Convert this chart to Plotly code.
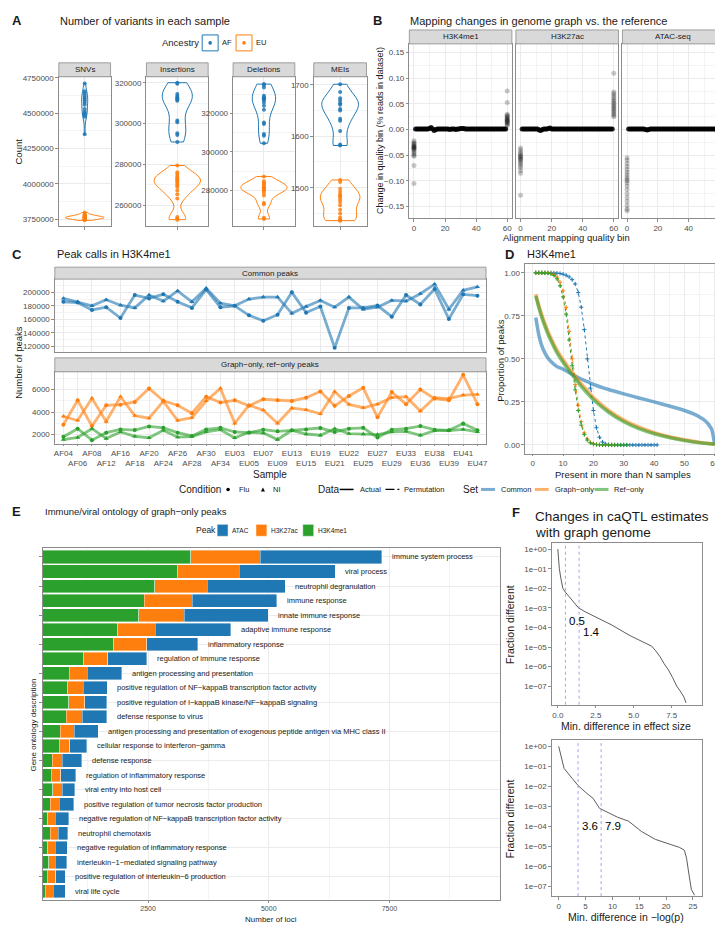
import numpy as np
import plotly.graph_objects as go

W, H = 723, 925
FONT = "Liberation Sans, Arial, Helvetica, sans-serif"
BLUE, ORANGE, GREEN = "#1F77B4", "#FF7F0E", "#2CA02C"
GRID, MINOR, BORDER, TICKC, TXT = "#EBEBEB", "#F4F4F4", "#8C8C8C", "#4D4D4D", "#1A1A1A"
STRIP_FILL = "#D9D9D9"

# ---------------- A: number of variants in each sample ----------------
variant_types = ["SNVs", "Insertions", "Deletions", "MEIs"]
ancestries = ["AF", "EU"]
snv_af = [4710000, 4655000, 4640000, 4625000, 4610000, 4600000, 4590000, 4575000, 4560000,
          4530000, 4510000, 4500000, 4490000, 4475000, 4350000]
snv_eu = [3742000, 3746000, 3750000, 3752000, 3755000, 3757000, 3759000, 3760000, 3762000,
          3764000, 3766000, 3768000, 3770000, 3773000, 3776000, 3780000, 3786000, 3797000]
ins_af = [320000, 319500, 314500, 313500, 312800, 312300, 311800, 311200, 301500, 300600,
          295300, 294400, 291000]
ins_eu = [279500, 276200, 275300, 274400, 273600, 272800, 272200, 271500, 270600, 269700,
          269000, 267300, 265400, 263300, 254300, 253600, 253000]
del_af = [335200, 334800, 333400, 329100, 328400, 327900, 327300, 326900, 325700, 324000,
          321900, 315300, 314500, 309300, 308400, 304500]
del_eu = [287200, 284800, 283900, 283400, 282600, 281700, 281200, 280900, 280300, 280000,
          278800, 277400, 273500, 272800, 265900, 265200]
mei_af = [1701, 1686, 1674, 1669, 1664, 1661, 1653, 1650, 1634, 1630, 1610, 1584, 1582]
mei_eu = [1515, 1511, 1498, 1492, 1487, 1484, 1482, 1477, 1472, 1466, 1457, 1450, 1442,
          1438, 1437, 1436]

# ---------------- B: mapping quality changes ----------------
b_assays = ["H3K4me1", "H3K27ac", "ATAC-seq"]
mapq_bins = list(range(0, 61))
b_bin0 = {
    "H3K4me1": [-0.022, -0.025, -0.027, -0.029, -0.031, -0.033, -0.034, -0.035, -0.036, -0.037,
                -0.039, -0.041, -0.044, -0.047, -0.050, -0.052, -0.070, -0.105],
    "H3K27ac": [-0.036, -0.040, -0.044, -0.047, -0.050, -0.052, -0.054, -0.056, -0.058, -0.060,
                -0.063, -0.066, -0.070, -0.074, -0.080, -0.085, -0.128],
    "ATAC-seq": [-0.055, -0.060, -0.066, -0.072, -0.078, -0.083, -0.088, -0.093, -0.097, -0.100,
                 -0.104, -0.110, -0.117, -0.125, -0.133, -0.140, -0.148, -0.155, -0.158],
}
b_bin60 = {
    "H3K4me1": [0.008, 0.010, 0.012, 0.014, 0.015, 0.016, 0.018, 0.019, 0.020, 0.022, 0.024,
                0.026, 0.028, 0.030, 0.053, 0.075],
    "H3K27ac": [0.025, 0.028, 0.031, 0.034, 0.037, 0.040, 0.043, 0.046, 0.049, 0.052, 0.055,
                0.058, 0.062, 0.066, 0.070, 0.073, 0.110],
    "ATAC-seq": [0.055, 0.060, 0.065, 0.070, 0.075, 0.080, 0.085, 0.088, 0.090, 0.093, 0.097,
                 0.100, 0.105, 0.110, 0.115, 0.122, 0.128, 0.135, 0.143, 0.148],
}
b_mid = {  # bins 1..59
    "H3K4me1": [0.001, 0.001, 0.001, 0.001, 0.001, 0.001, 0.001, 0.001, 0.001, 0.002,
                0.004, 0.001, -0.002, 0.000, 0.001, 0.001, 0.001, 0.001, 0.001, 0.001,
                0.001, 0.001, 0.000, 0.001, 0.001, 0.001, 0.000, 0.001, 0.001, 0.002,
                0.002, 0.002, 0.001, 0.001, 0.001, 0.001, 0.001, 0.001, 0.001, 0.001,
                0.001, 0.001, 0.001, 0.001, 0.001, 0.001, 0.001, 0.001, 0.001, 0.001,
                0.001, 0.001, 0.001, 0.001, 0.001, 0.001, 0.001, 0.001, 0.001],
    "H3K27ac": [0.001, 0.001, 0.001, 0.001, 0.001, 0.001, 0.001, 0.001, 0.001, 0.001,
                0.001, -0.001, -0.002, 0.000, 0.001, 0.001, 0.001, 0.002, 0.003, 0.001,
                0.001, 0.001, 0.001, 0.001, 0.001, 0.001, 0.001, 0.001, 0.001, 0.001,
                0.001, 0.001, 0.001, 0.001, 0.001, 0.001, 0.001, 0.001, 0.001, 0.001,
                0.001, 0.001, 0.001, 0.001, 0.001, 0.001, 0.001, 0.001, 0.001, 0.001,
                0.001, 0.001, 0.001, 0.001, 0.001, 0.001, 0.001, 0.001, 0.001],
    "ATAC-seq": [0.001, 0.001, 0.001, 0.001, 0.001, 0.001, 0.001, 0.001, 0.001, 0.001,
                 0.001, 0.000, -0.001, 0.000, 0.001, 0.001, 0.001, 0.001, 0.001, 0.001,
                 0.001, 0.001, 0.001, 0.001, 0.001, 0.001, 0.001, 0.001, 0.001, 0.001,
                 0.001, 0.001, 0.001, 0.001, 0.001, 0.001, 0.001, 0.001, 0.001, 0.001,
                 0.001, 0.001, 0.001, 0.001, 0.001, 0.001, 0.001, 0.001, 0.001, 0.001,
                 0.001, 0.001, 0.001, 0.001, 0.001, 0.001, 0.001, 0.001, 0.001],
}

# ---------------- C: peak calls per sample ----------------
samples = ["AF04", "AF06", "AF08", "AF12", "AF16", "AF18", "AF20", "AF24", "AF26", "AF28",
           "AF30", "AF34", "EU03", "EU05", "EU07", "EU09", "EU13", "EU15", "EU19", "EU21",
           "EU22", "EU25", "EU27", "EU29", "EU33", "EU36", "EU38", "EU39", "EU41", "EU47"]
common_flu = [186000, 185000, 174000, 178000, 162000, 196000, 191000, 197000, 186000, 177000,
              204000, 178000, 180000, 166000, 158000, 167000, 200000, 170000, 179000, 118000,
              177000, 177000, 180500, 164000, 196000, 182000, 205000, 160500, 197000, 195000]
common_ni = [191000, 186000, 180000, 189000, 181000, 177000, 196000, 187000, 202000, 186000,
             206000, 184000, 180000, 190000, 193000, 193000, 169000, 179000, 188000, 178000,
             193000, 175000, 178000, 188000, 187000, 198000, 212000, 175000, 203000, 208000]
graph_flu = [2870, 5040, 2750, 4600, 4650, 4900, 6090, 5000, 4600, 3900, 5360, 4840, 5040, 4550,
             5130, 5040, 4980, 5270, 5830, 4550, 5420, 6150, 3530, 5770, 4700, 6000, 5190, 5040,
             7300, 4700]
graph_ni = [3620, 3250, 5220, 3160, 5360, 3680, 3450, 4950, 3250, 3500, 4980, 6090, 3000, 4600,
            4170, 3000, 4350, 4200, 3830, 5800, 4670, 4380, 4700, 5270, 5360, 4090, 5270, 5190,
            5500, 5560]
ref_flu = [1800, 2520, 1500, 2170, 2460, 2400, 2720, 2600, 2170, 1880, 2460, 2600, 2230, 2170,
           2430, 2290, 2380, 2460, 2580, 2230, 2520, 2600, 1740, 2430, 2520, 2750, 2430, 2380,
           2980, 2380]
ref_ni = [1560, 1740, 2520, 1650, 2230, 1850, 1710, 2380, 1770, 1820, 2230, 2430, 1710, 2200,
          2140, 1560, 2380, 2050, 1940, 2520, 2080, 2050, 2000, 2230, 2290, 1940, 2350, 2350,
          2460, 2230]

# ---------------- D: peak sharing across samples ----------------
n_common = [1, 2, 3, 4, 5, 6, 8, 10, 12, 14, 16, 18, 20, 25, 30, 35, 40, 45, 50, 53, 55, 57,
            58, 59, 60]
common_actual = [0.74, 0.64, 0.575, 0.535, 0.505, 0.485, 0.455, 0.44, 0.42, 0.40, 0.383, 0.368,
                 0.352, 0.322, 0.297, 0.273, 0.25, 0.226, 0.2, 0.18, 0.162, 0.138, 0.118, 0.09, 0.0]
n_only = [1, 2, 3, 4, 5, 6, 8, 10, 12, 14, 16, 18, 20, 25, 30, 35, 40, 45, 50, 55, 60]
graph_actual = [0.875, 0.81, 0.755, 0.705, 0.66, 0.62, 0.55, 0.495, 0.445, 0.40, 0.355, 0.315,
                0.275, 0.2, 0.145, 0.103, 0.072, 0.048, 0.03, 0.015, 0.005]
ref_actual = [0.865, 0.80, 0.74, 0.69, 0.645, 0.605, 0.535, 0.48, 0.43, 0.385, 0.34, 0.30,
              0.262, 0.19, 0.135, 0.095, 0.065, 0.043, 0.026, 0.013, 0.004]
n_perm = list(range(1, 42))
common_perm = [1.0, 1.0, 1.0, 1.0, 1.0, 1.0, 0.999, 0.998, 0.996, 0.992,
               0.986, 0.976, 0.96, 0.935, 0.885, 0.8, 0.67, 0.5, 0.33, 0.2,
               0.1, 0.045, 0.017, 0.006, 0.002, 0.001, 0, 0, 0, 0,
               0, 0, 0, 0, 0, 0, 0, 0, 0, 0, 0]
graph_perm = [1.0, 1.0, 1.0, 1.0, 0.999, 0.997, 0.99, 0.975, 0.945, 0.895,
              0.8, 0.66, 0.5, 0.35, 0.23, 0.135, 0.07, 0.035, 0.015, 0.007,
              0.003, 0.001, 0, 0, 0, 0, 0]
ref_perm = [1.0, 1.0, 1.0, 0.999, 0.998, 0.994, 0.985, 0.965, 0.925, 0.86,
            0.76, 0.61, 0.46, 0.32, 0.2, 0.115, 0.06, 0.028, 0.012, 0.005,
            0.002, 0.001, 0, 0, 0, 0, 0, 0, 0, 0, 0]

# ---------------- E: GO terms of graph-only peaks ----------------
go_terms = ["immune system process", "viral process", "neutrophil degranulation",
            "immune response", "innate immune response", "adaptive immune response",
            "inflammatory response", "regulation of immune response",
            "antigen processing and presentation",
            "positive regulation of NF\u2212kappaB transcription factor activity",
            "positive regulation of I\u2212kappaB kinase/NF\u2212kappaB signaling",
            "defense response to virus",
            "antigen processing and presentation of exogenous peptide antigen via MHC class II",
            "cellular response to interferon\u2212gamma", "defense response",
            "regulation of inflammatory response", "viral entry into host cell",
            "positive regulation of tumor necrosis factor production",
            "negative regulation of NF\u2212kappaB transcription factor activity",
            "neutrophil chemotaxis", "negative regulation of inflammatory response",
            "interleukin\u22121\u2212mediated signaling pathway",
            "positive regulation of interleukin\u22126 production", "viral life cycle"]
h3k4me1_loci = [3380, 3115, 2640, 2420, 2310, 1870, 1790, 1170, 870, 835, 860, 805, 685, 655,
                510, 490, 525, 470, 425, 470, 425, 445, 415, 370]
h3k27ac_loci = [1440, 1275, 1085, 995, 940, 775, 685, 495, 370, 325, 325, 335, 285, 225, 210,
                205, 200, 190, 155, 165, 155, 130, 175, 170]
atac_loci = [2520, 1985, 1620, 1755, 1740, 1565, 1055, 810, 710, 495, 460, 500, 500, 345, 410,
             305, 255, 305, 280, 205, 245, 240, 190, 240]

# ---------------- F: caQTL estimate changes ----------------
eff_diff = [0.0, 0.05, 0.1, 0.2, 0.33, 0.5, 0.81, 1.0, 1.36, 1.8, 2.57, 3.5, 4.76, 5.5, 6.18,
            6.45, 6.73, 7.0, 7.28, 7.55, 7.83, 8.1, 8.3, 8.44]
eff_frac = [1.0, 2.5e-1, 1.0e-1, 3.2e-2, 1.0e-2, 6.3e-3, 3.2e-3, 2.0e-3, 1.0e-3, 6.3e-4, 3.2e-4,
            1.4e-4, 3.8e-5, 2.0e-5, 1.1e-5, 6.3e-6, 3.2e-6, 1.4e-6, 6.8e-7, 2.8e-7, 1.0e-7,
            5.0e-8, 2.8e-8, 1.4e-8]
eff_thresholds = [0.5, 1.4]
logp_diff = [0, 1.0, 2.5, 3.6, 5.0, 6.4, 7.6, 9.0, 11.0, 13.0, 14.2, 15.4, 18.0, 20.5, 22.5,
             23.4, 23.8, 24.3, 24.7, 25.3]
logp_frac = [1.0, 7.9e-2, 2.5e-2, 1.1e-2, 5.0e-3, 2.5e-3, 7.9e-4, 5.0e-4, 2.8e-4, 1.8e-4,
             1.0e-4, 5.5e-5, 2.2e-5, 1.3e-5, 8.7e-6, 6.3e-6, 2.5e-6, 3.2e-7, 6.8e-8, 3.5e-8]
logp_thresholds = [3.6, 7.9]

# ======================================================================
fig = go.Figure()
layout = dict(width=W, height=H, margin=dict(l=0, r=0, t=0, b=0), paper_bgcolor="white",
              plot_bgcolor="white", showlegend=False, violinmode="overlay", barmode="stack",
              font=dict(family=FONT, size=8, color=TXT))
shapes, anns = [], []


def px_x(x):
    return x / W


def px_y(y):
    return 1 - y / H


def add_text(x, y, s, size=8, color=TXT, xanchor="left", yanchor="middle", angle=0, bold=False):
    anns.append(dict(xref="paper", yref="paper", x=px_x(x), y=px_y(y),
                     text=(f"<b>{s}</b>" if bold else s), showarrow=False, xanchor=xanchor,
                     yanchor=yanchor, textangle=angle, borderpad=0,
                     font=dict(family=FONT, size=size, color=color)))


def add_rect(l, t, r, b, fill, line=None, lw=0.8):
    shapes.append(dict(type="rect", xref="paper", yref="paper", x0=px_x(l), x1=px_x(r),
                       y0=px_y(b), y1=px_y(t), fillcolor=fill,
                       line=dict(color=line or fill, width=(lw if line else 0)), layer="above"))


def add_line(x0, y0, x1, y1, color, width=1.0, dash="solid", opacity=1.0):
    shapes.append(dict(type="line", xref="paper", yref="paper", x0=px_x(x0), x1=px_x(x1),
                       y0=px_y(y0), y1=px_y(y1), opacity=opacity,
                       line=dict(color=color, width=width, dash=dash)))


def strip(l, t, r, b, label):
    add_rect(l, t, r, b, STRIP_FILL, BORDER, 0.8)
    add_text((l + r) / 2, (t + b) / 2, label, size=8, xanchor="center")


def axname(k, n):
    return f"{k}axis" if n == 1 else f"{k}axis{n}"


def axref(k, n):
    return k if n == 1 else f"{k}{n}"


def base_axis(other, dom, **kw):
    d = dict(domain=dom, anchor=other, showline=True, mirror=True, linecolor=BORDER,
             linewidth=0.8, showgrid=True, gridcolor=GRID, gridwidth=0.8, zeroline=False,
             ticks="outside", ticklen=2.5, tickwidth=0.8, tickcolor=BORDER,
             ticklabeloverflow="allow",
             tickfont=dict(size=8, color=TICKC, family=FONT), fixedrange=True)
    d.update(kw)
    return d


def add_panel(n, box, xkw, ykw):
    l, t, r, b = box
    layout[axname("x", n)] = base_axis(axref("y", n), [px_x(l), px_x(r)], **xkw)
    layout[axname("y", n)] = base_axis(axref("x", n), [px_y(b), px_y(t)], **ykw)
    return axref("x", n), axref("y", n)


def minor(dt):
    return dict(dtick=dt, showgrid=True, gridcolor=MINOR, gridwidth=0.5)


def nrd0(v):
    v = np.asarray(v, float)
    sd = v.std(ddof=1)
    q75, q25 = np.percentile(v, [75, 25])
    lo = min(sd, (q75 - q25) / 1.34) if q75 > q25 else sd
    return 0.9 * lo * len(v) ** -0.2


def kde_peak(v, bw):
    v = np.asarray(v, float)
    grid = np.linspace(v.min(), v.max(), 400)
    dens = np.exp(-0.5 * ((grid[:, None] - v[None, :]) / bw) ** 2).sum(1)
    return dens.max() / (len(v) * bw * np.sqrt(2 * np.pi))


# ---------------- Panel A ----------------
add_text(2, 10, "A", size=13, bold=True)
add_text(50, 10, "Number of variants in each sample", size=11)
add_text(153, 32, "Ancestry", size=9.5)
for (bl, br), lab, col in zip([(194, 210), (228, 244)], ancestries, [BLUE, ORANGE]):
    add_rect(bl, 24, br, 40, "rgba(0,0,0,0)", col, 1)
    shapes.append(dict(type="circle", xref="paper", yref="paper", x0=px_x((bl + br) / 2 - 1.8),
                       x1=px_x((bl + br) / 2 + 1.8), y0=px_y(33.8), y1=px_y(30.2),
                       fillcolor=col, line=dict(width=0)))
    add_text(br + 3, 32, lab, size=7.5)

a_boxes = [(50, 66, 102, 216), (138, 66, 200, 216), (225, 66, 287, 216), (306, 66, 359, 216)]
a_ranges = [[3700000, 4757000], [249750, 322900], [261400, 339000], [1425, 1715.5]]
a_dticks = [250000, 20000, 20000, 100]
a_data = [(snv_af, snv_eu), (ins_af, ins_eu), (del_af, del_eu), (mei_af, mei_eu)]
for i in range(4):
    n = i + 1
    xr, yr = add_panel(n, a_boxes[i],
                       dict(range=[-0.6, 0.6], tickvals=[0], ticktext=[""]),
                       dict(range=a_ranges[i], dtick=a_dticks[i], tick0=0, tickformat="d",
                            minor=minor(a_dticks[i] / 2)))
    l, t, r, b = a_boxes[i]
    strip(l, 52, r, 66, variant_types[i])
    bws = [nrd0(v) for v in a_data[i]]
    peaks = [kde_peak(v, bw) for v, bw in zip(a_data[i], bws)]
    for vals, col, bw, pk in zip(a_data[i], [BLUE, ORANGE], bws, peaks):
        fig.add_trace(go.Violin(y=vals, x0=0, xaxis=xr, yaxis=yr, line=dict(color=col, width=1),
                                fillcolor="rgba(0,0,0,0)", points="all", pointpos=0, jitter=0,
                                marker=dict(color=col, size=4, opacity=0.85),
                                spanmode="hard", bandwidth=bw, scalemode="width",
                                width=0.9 * pk / max(peaks), hoverinfo="skip"))
add_text(10, 141, "Count", size=9.5, xanchor="center", angle=-90)

# ---------------- Panel B ----------------
add_text(365, 10, "B", size=13, bold=True)
add_text(402, 10, "Mapping changes in genome graph vs. the reference", size=11)
b_boxes = [(402, 33, 505, 208), (509, 33, 612, 208), (616, 33, 718, 208)]
for j, assay in enumerate(b_assays):
    n = 5 + j
    xr, yr = add_panel(n, b_boxes[j],
                       dict(range=[-3, 63], dtick=20, tick0=0, minor=minor(10)),
                       dict(range=[-0.173, 0.167], dtick=0.05, tick0=0, tickformat=".2f",
                            minor=minor(0.025), showticklabels=(j == 0),
                            ticks=("outside" if j == 0 else "")))
    l, t, r, b = b_boxes[j]
    strip(l, 19, r, 33, assay)
    fig.add_trace(go.Scatter(x=mapq_bins[1:60], y=b_mid[assay], mode="markers", xaxis=xr,
                             yaxis=yr, marker=dict(color="rgba(0,0,0,0.85)", size=5),
                             hoverinfo="skip"))
    e0, e60 = b_bin0[assay], b_bin60[assay]
    fig.add_trace(go.Scatter(x=[mapq_bins[0]] * len(e0) + [mapq_bins[-1]] * len(e60),
                             y=e0 + e60, mode="markers", xaxis=xr, yaxis=yr,
                             marker=dict(color="rgba(0,0,0,0.22)", size=5), hoverinfo="skip"))
add_text(372, 120, "Change in quality bin (% reads in dataset)", size=9, xanchor="center",
         angle=-90)
add_text(560, 227, "Alignment mapping quality bin", size=9.5, xanchor="center")

# ---------------- Panel C ----------------
add_text(2, 244, "C", size=13, bold=True)
add_text(47, 244, "Peak calls in H3K4me1", size=11)
cat_range = [-0.6, len(samples) - 0.4]
xr8, yr8 = add_panel(8, (46, 269, 479, 342),
                     dict(type="category", categoryorder="array", categoryarray=samples,
                          range=cat_range, showticklabels=False, ticks=""),
                     dict(range=[112000, 219500], dtick=20000, tick0=0, tickformat="d",
                          minor=minor(10000)))
xr9, yr9 = add_panel(9, (46, 362, 479, 434),
                     dict(type="category", categoryorder="array", categoryarray=samples,
                          range=cat_range, tickvals=samples, tickangle=0, ticklen=2,
                          ticktext=[s if k % 2 == 0 else "<br>" + s for k, s in enumerate(samples)]),
                     dict(range=[1200, 7565], dtick=2000, tick0=0, tickformat="d",
                          minor=minor(1000)))
strip(46, 257, 479, 269, "Common peaks")
strip(46, 348, 479, 362, "Graph\u2212only, ref\u2212only peaks")
c_series = [(common_flu, BLUE, "circle", xr8, yr8), (common_ni, BLUE, "triangle-up", xr8, yr8),
            (graph_flu, ORANGE, "circle", xr9, yr9), (graph_ni, ORANGE, "triangle-up", xr9, yr9),
            (ref_flu, GREEN, "circle", xr9, yr9), (ref_ni, GREEN, "triangle-up", xr9, yr9)]
for vals, col, sym, xr, yr in c_series:
    fig.add_trace(go.Scatter(x=samples, y=vals, mode="lines", xaxis=xr, yaxis=yr, opacity=0.6,
                             line=dict(color=col, width=2.8), hoverinfo="skip"))
for vals, col, sym, xr, yr in c_series:
    fig.add_trace(go.Scatter(x=samples, y=vals, mode="markers", xaxis=xr, yaxis=yr,
                             marker=dict(color=col, size=(4 if sym == "circle" else 4.5),
                                         symbol=sym), hoverinfo="skip"))
add_text(10, 352, "Number of peaks", size=9.5, xanchor="center", angle=-90)
add_text(262, 465, "Sample", size=10, xanchor="center")

# ---------------- Panel D ----------------
add_text(497, 244, "D", size=13, bold=True)
add_text(519, 244, "H3K4me1", size=11)
xr10, yr10 = add_panel(10, (518, 254, 716, 444),
                       dict(range=[-2.6, 62.4], dtick=10, tick0=0, minor=minor(5), ticklen=2),
                       dict(range=[-0.05, 1.05], dtick=0.25, tick0=0, tickformat=".2f",
                            minor=minor(0.125)))
for nn, vals, col in [(n_perm, common_perm, BLUE), (n_perm, graph_perm, ORANGE),
                      (n_perm, ref_perm, GREEN)]:
    fig.add_trace(go.Scatter(x=nn[:len(vals)], y=vals, mode="lines+markers", xaxis=xr10,
                             yaxis=yr10, line=dict(color=col, width=1, dash="dot"),
                             marker=dict(symbol="cross-thin", size=3,
                                         line=dict(width=1, color=col)), hoverinfo="skip"))
for nn, vals, col in [(n_common, common_actual, BLUE), (n_only, graph_actual, ORANGE),
                      (n_only, ref_actual, GREEN)]:
    fig.add_trace(go.Scatter(x=nn, y=vals, mode="lines", xaxis=xr10, yaxis=yr10, opacity=0.6,
                             line=dict(color=col, width=3.5, shape="spline", smoothing=0.6),
                             hoverinfo="skip"))
add_text(494, 350, "Proportion of peaks", size=9.5, xanchor="center", angle=-90)
add_text(617, 465, "Present in more than N samples", size=9.5, xanchor="center")

# legend row shared by C and D
ly = 480
add_text(170, ly, "Condition", size=10)
shapes.append(dict(type="circle", xref="paper", yref="paper", x0=px_x(218.2), x1=px_x(221.8),
                   y0=px_y(ly + 1.8), y1=px_y(ly - 1.8), fillcolor="black", line=dict(width=0)))
add_text(230, ly, "Flu", size=7.5)
shapes.append(dict(type="path", xref="paper", yref="paper",
                   path=f"M {px_x(253)} {px_y(ly + 2)} L {px_x(257)} {px_y(ly + 2)} "
                        f"L {px_x(255)} {px_y(ly - 2)} Z", fillcolor="black", line=dict(width=0)))
add_text(264, ly, "NI", size=7.5)
add_text(309, ly, "Data", size=10)
add_line(332, ly, 346, ly, "black", 1.5)
add_text(351, ly, "Actual", size=7.5)
add_line(378, ly, 392, ly, "black", 1.2, "dashdot")
add_text(396, ly, "Permutation", size=7.5)
add_text(455, ly, "Set", size=10)
for (x0, lab, col) in [(474, "Common", BLUE), (528, "Graph\u2212only", ORANGE),
                       (588, "Ref\u2212only", GREEN)]:
    add_line(x0, ly, x0 + 14, ly, col, 3, opacity=0.6)
    add_text(x0 + 19, ly, lab, size=7.5)

# ---------------- Panel E ----------------
add_text(2, 502, "E", size=13, bold=True)
add_text(35, 502, "Immune/viral ontology of graph\u2212only peaks", size=9.5)
add_text(187, 521, "Peak", size=8.5)
for (x0, lab, col) in [(209, "ATAC", BLUE), (248, "H3K27ac", ORANGE), (295, "H3K4me1", GREEN)]:
    add_rect(x0, 515, x0 + 11, 527, col, "white", 0.5)
    add_text(x0 + 14, 521, lab, size=6.5)
xr11, yr11 = add_panel(11, (34, 539, 493, 892),
                       dict(range=[320, 9790], tickvals=[2500, 5000, 7500], tickformat="d",
                            ticklen=1.5,
                            minor=dict(tickvals=[1250, 3750, 6250, 8750], showgrid=True,
                                       gridcolor=MINOR, gridwidth=0.5),
                            tickfont=dict(size=7, color=TICKC, family=FONT)),
                       dict(type="category", categoryorder="array", categoryarray=go_terms,
                            range=[len(go_terms) - 0.4, -0.6], showticklabels=False))
for vals, col in [(h3k4me1_loci, GREEN), (h3k27ac_loci, ORANGE), (atac_loci, BLUE)]:
    fig.add_trace(go.Bar(y=go_terms, x=vals, orientation="h", xaxis=xr11, yaxis=yr11, width=0.9,
                         marker=dict(color=col, line=dict(color="white", width=0.4)),
                         hoverinfo="skip"))
totals = [a + b + c for a, b, c in zip(h3k4me1_loci, h3k27ac_loci, atac_loci)]
for term, tot in zip(go_terms, totals):
    anns.append(dict(xref=xr11, yref=yr11, x=tot, y=term, text=term, showarrow=False,
                     xanchor="left", xshift=8, font=dict(family=FONT, size=7.5, color=TXT)))
add_text(25, 716, "Gene ontology description", size=8, xanchor="center", angle=-90)
add_text(263, 911, "Number of loci", size=8, xanchor="center")

# ---------------- Panel F ----------------
add_text(504, 503, "F", size=13, bold=True)
add_text(527, 507, "Changes in caQTL estimates", size=13.5)
add_text(527, 523, "with graph genome", size=13.5)
log_ticks = [1, 1e-1, 1e-2, 1e-3, 1e-4, 1e-5, 1e-6, 1e-7]
log_text = ["1e+00"] + [f"1e\u22120{k}" for k in range(1, 8)]
f_y = dict(type="log", tickvals=log_ticks, ticktext=log_text, showgrid=False,
           tickfont=dict(size=8, color=TICKC, family=FONT))
xr12, yr12 = add_panel(12, (545, 534, 696, 696),
                       dict(range=[-0.4, 9.5], dtick=2.5, tick0=0, tickformat=".1f",
                            showgrid=False),
                       dict(range=[-7.95, 0.3], **f_y))
xr13, yr13 = add_panel(13, (545, 731, 696, 888),
                       dict(range=[-1.3, 26.7], dtick=5, tick0=0, showgrid=False),
                       dict(range=[-7.5, 0.34], **f_y))
fig.add_trace(go.Scatter(x=eff_diff, y=eff_frac, mode="lines", xaxis=xr12, yaxis=yr12,
                         line=dict(color="#333333", width=0.8), hoverinfo="skip"))
fig.add_trace(go.Scatter(x=logp_diff, y=logp_frac, mode="lines", xaxis=xr13, yaxis=yr13,
                         line=dict(color="#333333", width=0.8), hoverinfo="skip"))
for thrs, xr, yr, ys in [(eff_thresholds, xr12, yr12, [-3.65, -4.25]),
                         (logp_thresholds, xr13, yr13, [-4.0, -4.0])]:
    for thr, yl in zip(thrs, ys):
        shapes.append(dict(type="line", xref=xr, yref=f"{yr} domain", x0=thr, x1=thr, y0=0,
                           y1=1, line=dict(color="#7B7BF0", width=0.7, dash="dot")))
        anns.append(dict(xref=xr, yref=yr, x=thr, y=yl, text=f"{thr}", showarrow=False,
                         xanchor="left", xshift=2, font=dict(family=FONT, size=11.5, color="black")))
add_text(503, 615, "Fraction different", size=10.5, xanchor="center", angle=-90)
add_text(503, 810, "Fraction different", size=10.5, xanchor="center", angle=-90)
add_text(620, 717, "Min. difference in effect size", size=10.5, xanchor="center")
add_text(620, 909, "Min. difference in \u2212log(p)", size=10.5, xanchor="center")

layout["shapes"] = shapes
layout["annotations"] = anns
fig.update_layout(**layout)
fig.write_html("out.html")
